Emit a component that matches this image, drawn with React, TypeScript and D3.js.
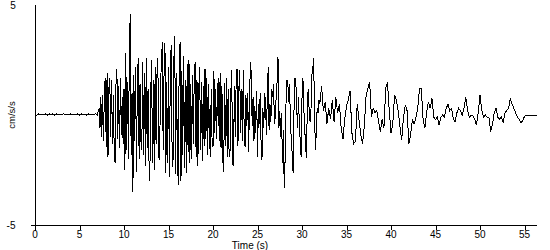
import React from "react";
import * as d3 from "d3";

// pre-event noise, t = 0 .. 7.0 s, dt = 0.2 s
const preEventStart = 0;
const preEventDt = 0.2;
const preEvent = [
  0, 0, 0.05, 0.0, 0.05, 0.0, 0.05, 0.0, 0.05, 0.0, 0.05, 0.0,
  0.05, 0.0, 0.05, 0.0, 0.05, 0.0, 0.05, 0.0, 0.05, 0.0, 0.05, 0.0,
  0.05, 0.0, 0.05, 0.0, 0.05, 0.0, 0.05, 0.0, 0.05, 0.0, 0.05, 0.0,
];

// strong motion, t = 7.2 .. 31.9 s, dt = 0.1 s
const strongStart = 7.2;
const strongDt = 0.1;
const strongMotion = [
  0.3, -0.6, 0.8, -1.0, 0.9, -1.2, 1.3, 1.7,
  -1.45, 1.9, -1.9, 1.2, 1.7, -1.0, 1.6, -1.3, 0.9, -1.6,
  -2.2, 1.4, 2.1, -1.1, 1.3, -1.5, 1.7, -0.9, 0.8, -1.3,
  1.2, -2.5, 2.8, -1.6, 1.5, -2.0, 2.9, 4.6, -1.8, 1.0,
  -3.5, 1.8, -1.2, 2.2, -2.6, 1.5, 2.6, -2.0, 1.4, -1.2,
  -1.6, 2.4, -1.8, 1.9, -2.3, 2.6, -1.5, 1.2, -2.0, -3.0,
  1.0, 2.5, -2.2, 1.6, -2.5, 2.2, -1.3, 1.8, 2.6, -1.9,
  -2.05, 1.4, 2.3, 3.3, -1.6, 1.9, 3.25, -2.65, 1.5, -2.2,
  2.2, -2.8, 1.8, 3.2, -1.5, -2.35, 2.5, 3.6, -2.7, 1.9,
  -1.9, -3.2, 2.4, 3.3, -3.0, 2.0, -1.8, 2.7, -2.4, 1.6,
  -2.65, 2.3, -1.7, 2.5, -2.2, 1.4, -2.0, 1.8, -1.3, 2.1,
  2.4, -1.9, 1.6, -2.3, 1.2, 2.2, -1.6, 1.5, -2.1, 1.3,
  -1.4, 2.1, -1.1, 1.7, -1.8, 1.4, -0.9, -1.9, 1.2, -1.3,
  -1.45, 2.0, -0.8, 1.2, -1.1, 1.0, 1.7, -1.2, 1.9, -1.5,
  1.3, -2.05, -2.6, 1.45, -1.4, 1.7, -1.9, 1.2, -1.6, -1.9,
  1.0, 2.05, -2.2, -2.3, 1.3, -1.0, 1.6, 2.1, -1.4, 1.1,
  2.05, -0.8, 1.2, -1.2, 2.05, -0.6, -1.45, 0.9, -0.5, 1.0,
  -1.7, 0.6, 2.4, 1.9, -0.5, 0.8, -1.2, 0.4, -0.8, 1.1,
  -1.9, 0.5, -0.4, 1.0, -1.3, -2.05, 0.3, -0.6, 1.0, 0.6,
  -0.9, 0.8, 2.2, -0.7, 0.5, -0.3, 1.2, 0.8, 1.4, -0.4,
  -0.1, 0.9, 1.5, 2.65, -0.6, 0.2, -1.0, 0.1, -2.2, -0.7,
  -3.3, -2.0, 0.5, 1.6, 1.5, 0.6, 1.4, -0.3, -1.2, -1.8,
  -2.65, 0.2, 1.7, 1.6, 0.4, -0.6, 0.8, -0.4, -1.2, -1.9,
  0.8, 1.7, 0.3, -0.6, -1.4, -1.95, 0.6, 1.2, 0.2, -0.3,
  0.1, 1.8, 2.0, 2.6, 0.4, -1.6, -0.8, 0.3, 0.1, 0.7,
];

// coda, t = 32.0 .. 56.4 s, dt = 0.2 s
const codaStart = 32.0;
const codaDt = 0.2;
const coda = [
  0.5, 1.3, 0.2, 0.6, -0.4, 0.3, -0.2, 0.7, -0.3, 0.8,
  0.1, 0.5, -0.6, -1.1, -0.2, 0.4, 0.7, 1.1, -0.8, -1.3,
  -1.2, 0.5, -0.2, -0.9, -1.3, -0.5, 0.9, 1.2, 1.5, -0.1,
  0.3, 0.1, 0.2, -0.3, -0.75, -0.2, -0.6, 1.2, 1.5, 0.2,
  -0.8, -0.4, 0.9, 0.7, 0.2, -0.5, -1.15, -0.1, 0.45, 0.2,
  -1.3, -0.9, -0.2, -0.4, -0.1, 0.3, 1.2, 1.2, -0.2, -0.6,
  0.1, 0.6, 0.3, 0.75, -0.1, -0.2, -0.1, -0.45, -0.1, 0.0,
  -0.1, 0.3, 0.5, 0.2, 0.3, -0.2, -0.3, 0.1, 0.3, 0.2,
  0.0, 0.3, 0.8, 0.2, -0.1, 0.0, -0.05, -0.2, -0.45, 0.1,
  0.9, 0.2, -0.1, 0.0, -0.1, -0.1, -0.75, -0.4, 0.1, 0.3,
  -0.1, -0.2, -0.1, -0.35, 0.1, 0.2, 0.3, 0.75, 0.5, 0.3,
  0.1, -0.1, -0.2, -0.35, -0.25, -0.05, 0.0, 0.0, 0.0, 0.0,
  0.0, 0.0, 0.0,
];

const xTicks = [0, 5, 10, 15, 20, 25, 30, 35, 40, 45, 50, 55];
const yTickLabels = [5, -5];
const xDomain = [0, 56.4];
const yDomain = [-5, 5];

function toPoints(start: number, dt: number, vals: number[]) {
  return vals.map((v, i) => [start + i * dt, v] as [number, number]);
}

export default function App() {
  const W = 550;
  const H = 250;
  const x = d3.scaleLinear().domain(xDomain).range([35, 537]);
  const y = d3.scaleLinear().domain(yDomain).range([225, 5]);

  const pts = [
    ...toPoints(preEventStart, preEventDt, preEvent),
    ...toPoints(strongStart, strongDt, strongMotion),
    ...toPoints(codaStart, codaDt, coda),
  ];
  const line = d3
    .line<[number, number]>()
    .x((d) => x(d[0]))
    .y((d) => y(d[1]));

  const font = "Arial, 'Liberation Sans', sans-serif";
  const x0 = Math.round(x(0)) + 0.5;
  const yb = Math.round(y(-5)) + 0.5;

  return (
    <svg
      width={W}
      height={H}
      style={{ position: "fixed", left: 0, top: 0, background: "#fff" }}
      fontFamily={font}
    >
      <rect width={W} height={H} fill="#fff" />
      {/* axes */}
      <line x1={x0} x2={x0} y1={y(5)} y2={yb + 5} stroke="#000" shapeRendering="crispEdges" />
      <line x1={x0 - 5} x2={x(xDomain[1])} y1={yb} y2={yb} stroke="#000" shapeRendering="crispEdges" />
      {xTicks.map((t) => (
        <g key={t}>
          <line
            x1={Math.round(x(t)) + 0.5}
            x2={Math.round(x(t)) + 0.5}
            y1={yb}
            y2={yb + 4}
            stroke="#000"
            shapeRendering="crispEdges"
          />
          <text x={x(t)} y={238} fontSize={10} textAnchor="middle" fill="#000">
            {t}
          </text>
        </g>
      ))}
      {yTickLabels.map((v) => (
        <text
          key={v}
          x={v > 0 ? 13 : 11}
          y={y(v) + 4}
          fontSize={10}
          textAnchor="middle"
          fill="#000"
        >
          {v}
        </text>
      ))}
      <text
        transform={`translate(15,${y(0)}) rotate(-90)`}
        fontSize={9.5}
        textAnchor="middle"
        fill="#000"
      >
        cm/s/s
      </text>
      <text x={250} y={249} fontSize={10} textAnchor="middle" fill="#000">
        Time (s)
      </text>
      <path
        d={line(pts) || ""}
        fill="none"
        stroke="#000"
        strokeWidth={1}
        shapeRendering="crispEdges"
      />
    </svg>
  );
}
